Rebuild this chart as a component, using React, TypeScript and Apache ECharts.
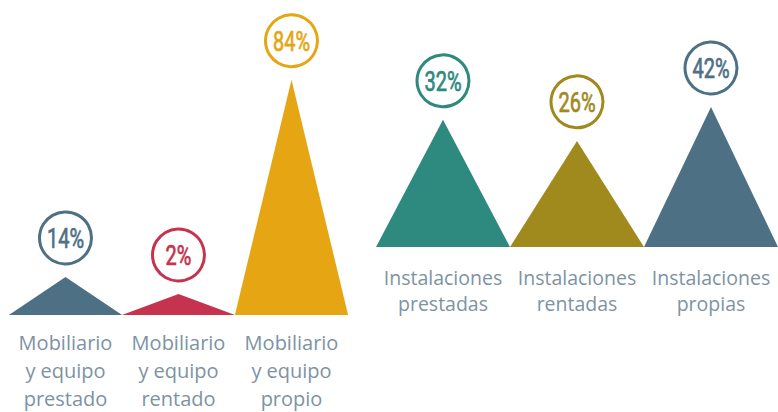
import React, { useEffect, useRef } from "react";
import * as echarts from "echarts";

// Left group
const leftCategories = ["Mobiliario\ny equipo\nprestado", "Mobiliario\ny equipo\nrentado", "Mobiliario\ny equipo\npropio"];
const leftPercents = [14, 2, 84];
const leftHeights = [13.6, 7.5, 84]; // triangle heights as drawn (axis units)
const leftColors = ["#4e7085", "#c5334f", "#e6a613"];

// Right group
const rightCategories = ["Instalaciones\nprestadas", "Instalaciones\nrentadas", "Instalaciones\npropias"];
const rightPercents = [32, 26, 42];
const rightHeights = [45.4, 37.9, 50]; // triangle heights as drawn (axis units)
const rightColors = ["#2e8a7e", "#a08a1e", "#4e7085"];

const labelColor = "#7d93a3";
const badgeFont = "Roboto, 'DejaVu Sans', sans-serif";

function triangles(heights: number[], colors: string[], idx: number) {
  return {
    type: "pictorialBar",
    xAxisIndex: idx,
    yAxisIndex: idx,
    symbol: "triangle",
    symbolSize: ["100%", "100%"],
    barWidth: "100%",
    barCategoryGap: "0%",
    data: heights.map((h, i) => ({ value: h, itemStyle: { color: colors[i] } })),
  };
}

function badges(heights: number[], percents: number[], colors: string[], idx: number) {
  return {
    type: "custom",
    xAxisIndex: idx,
    yAxisIndex: idx,
    data: heights.map((h, i) => [i, h]),
    renderItem: (params: any, api: any) => {
      const i = params.dataIndex;
      const p = api.coord([api.value(0), api.value(1)]);
      const cx = p[0];
      const cy = p[1] - 39;
      return {
        type: "group",
        children: [
          {
            type: "circle",
            shape: { cx, cy, r: 26 },
            style: { fill: "#ffffff", stroke: colors[i], lineWidth: 3 },
          },
          {
            type: "text",
            x: cx,
            y: cy + 1,
            scaleX: 0.74,
            style: {
              text: percents[i] + "%",
              fill: colors[i],
              stroke: colors[i],
              lineWidth: 0.7,
              font: "27px " + badgeFont,
              align: "center",
              verticalAlign: "middle",
            },
          },
        ],
      };
    },
  };
}

export default function App() {
  const ref = useRef<HTMLDivElement>(null);
  useEffect(() => {
    if (!ref.current) return;
    const chart = echarts.init(ref.current, null, { renderer: "svg" });
    chart.setOption({
      animation: false,
      backgroundColor: "#ffffff",
      grid: [
        { left: 9, width: 339, top: 35, height: 280 },
        { left: 376, width: 402, top: 0, height: 247 },
      ],
      xAxis: [
        {
          gridIndex: 0,
          type: "category",
          data: leftCategories,
          axisLine: { show: false },
          axisTick: { show: false },
          axisLabel: {
            margin: 13,
            color: labelColor,
            fontSize: 20,
            lineHeight: 28,
            fontFamily: "'Open Sans', sans-serif",
            interval: 0,
          },
        },
        {
          gridIndex: 1,
          type: "category",
          data: rightCategories,
          axisLine: { show: false },
          axisTick: { show: false },
          axisLabel: {
            margin: 17,
            color: labelColor,
            fontSize: 19.5,
            lineHeight: 26,
            fontFamily: "'Open Sans', sans-serif",
            interval: 0,
          },
        },
      ],
      yAxis: [
        { gridIndex: 0, type: "value", min: 0, max: 100, show: false },
        { gridIndex: 1, type: "value", min: 0, max: 88.2, show: false },
      ],
      series: [
        triangles(leftHeights, leftColors, 0),
        triangles(rightHeights, rightColors, 1),
        badges(leftHeights, leftPercents, leftColors, 0),
        badges(rightHeights, rightPercents, rightColors, 1),
      ],
    });
    return () => chart.dispose();
  }, []);
  return <div ref={ref} style={{ width: 778, height: 412, position: "absolute", left: 0, top: 0 }} />;
}
